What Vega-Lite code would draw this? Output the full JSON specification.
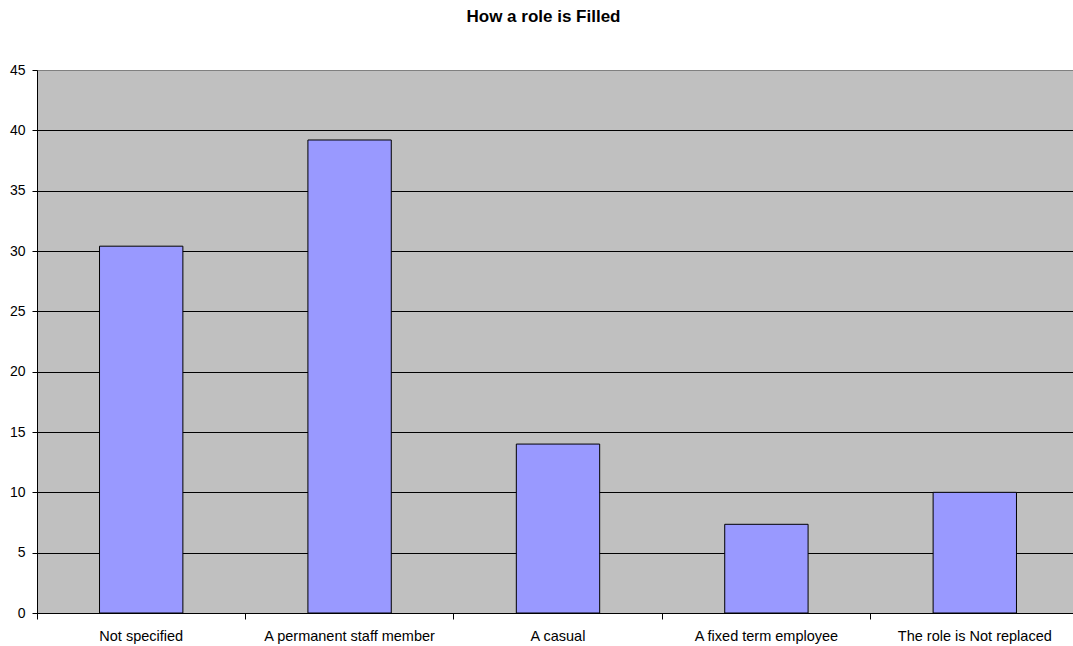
{
  "$schema": "https://vega.github.io/schema/vega-lite/v6.json",
  "autosize": {"type": "none"},
  "width": 1042,
  "height": 543,
  "padding": {"left": 37, "top": 70, "right": 0, "bottom": 33},
  "background": "white",
  "title": {
    "text": "How a role is Filled",
    "font": "Liberation Sans",
    "fontSize": 17,
    "fontWeight": "bold",
    "color": "black",
    "anchor": "middle",
    "dx": -14.5,
    "offset": 37
  },
  "config": {
    "font": "Liberation Sans",
    "view": {"fill": "#C0C0C0", "stroke": "#808080", "strokeWidth": 1}
  },
  "data": {
    "values": [
      {"category": "Not specified", "value": 30.4},
      {"category": "A permanent staff member", "value": 39.2},
      {"category": "A casual", "value": 14.0},
      {"category": "A fixed term employee", "value": 7.35},
      {"category": "The role is Not replaced", "value": 10.0}
    ]
  },
  "layer": [
    {
      "mark": {"type": "bar", "fill": "#9999FF", "stroke": "black", "strokeWidth": 1, "width": {"band": 0.4}},
      "encoding": {
        "x": {
          "field": "category",
          "type": "nominal",
          "sort": null,
          "scale": {"paddingInner": 0, "paddingOuter": 0},
          "axis": {
            "title": null,
            "orient": "bottom",
            "labelAngle": 0,
            "labelFont": "Liberation Sans",
            "labelFontSize": 14.5,
            "labelColor": "black",
            "labelPadding": 16,
            "ticks": false,
            "domainColor": "black",
            "domainWidth": 1,
            "grid": false
          }
        },
        "y": {
          "field": "value",
          "type": "quantitative",
          "scale": {"domain": [0, 45], "nice": false},
          "axis": {
            "title": null,
            "values": [0, 5, 10, 15, 20, 25, 30, 35, 40, 45],
            "labelFont": "Liberation Sans",
            "labelFontSize": 14,
            "labelColor": "black",
            "labelPadding": 7,
            "tickSize": 5,
            "tickColor": "black",
            "domainColor": "black",
            "grid": true,
            "gridColor": {"condition": {"test": "datum.value === 45", "value": "#808080"}, "value": "black"},
            "gridWidth": 1,
            "gridOpacity": 1
          }
        }
      }
    },
    {
      "mark": {"type": "bar", "opacity": 0},
      "encoding": {
        "x": {
          "field": "category",
          "type": "nominal",
          "sort": null,
          "axis": {
            "title": null,
            "orient": "bottom",
            "labels": false,
            "domain": false,
            "ticks": true,
            "tickSize": 6,
            "tickColor": "black",
            "bandPosition": 0,
            "grid": false
          }
        },
        "y": {"field": "value", "type": "quantitative", "axis": null}
      }
    }
  ],
  "resolve": {"axis": {"x": "independent", "y": "independent"}}
}
